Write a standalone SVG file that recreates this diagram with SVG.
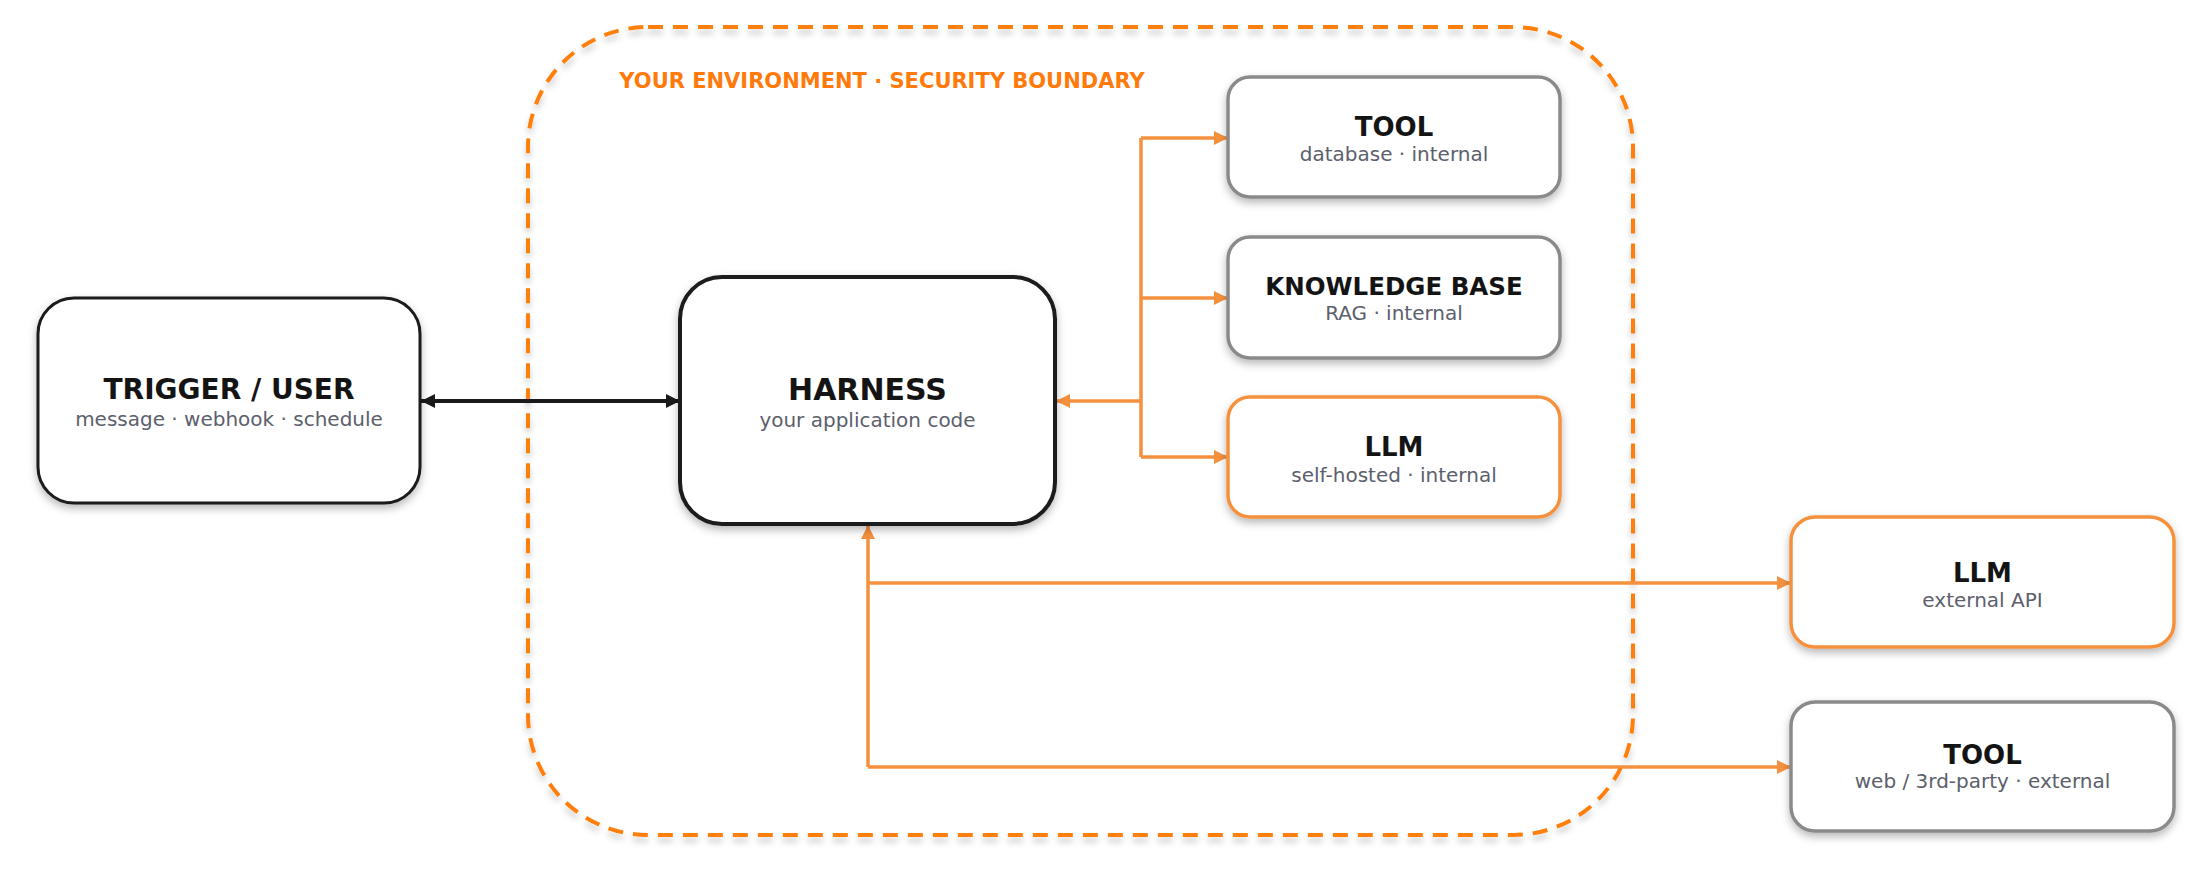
<svg xmlns="http://www.w3.org/2000/svg" width="2212" height="869" viewBox="0 0 2212 869">
<defs>
<filter id="sh" x="-20%" y="-20%" width="140%" height="150%">
<feDropShadow dx="0" dy="4" stdDeviation="4" flood-color="#000" flood-opacity="0.28"/>
</filter>
<filter id="shb" x="-5%" y="-5%" width="110%" height="110%">
<feDropShadow dx="0" dy="5" stdDeviation="3" flood-color="#000" flood-opacity="0.22"/>
</filter>
<marker id="ao" markerUnits="userSpaceOnUse" markerWidth="15" markerHeight="14" refX="14" refY="7" orient="auto-start-reverse">
<path d="M0,0 L14,7 L0,14 z" fill="#f5913e"/>
</marker>
<marker id="ak" markerUnits="userSpaceOnUse" markerWidth="15" markerHeight="14" refX="14" refY="7" orient="auto-start-reverse">
<path d="M0,0 L14,7 L0,14 z" fill="#1a1a1a"/>
</marker>
</defs>
<style>
text{font-family:"DejaVu Sans","Liberation Sans",sans-serif;text-anchor:middle}
.t{font-weight:bold;fill:#141414}
.s{font-size:20px;fill:#5c606c}
.box{fill:#fff}
.dark{stroke:#1a1a1a}
.gray{stroke:#8a8a8a;stroke-width:3.5}
.org{stroke:#f5913e;stroke-width:3.5}
.c{fill:none;stroke:#f5913e;stroke-width:3.5}
</style>
<rect id="boundary" x="528" y="27" width="1105" height="808" rx="120" ry="120" fill="none" stroke="#ff7f0e" stroke-width="4" stroke-dasharray="15 10" filter="url(#shb)"/>
<text x="882" y="88" style="font-size:21px;font-weight:bold;fill:#ff7a0a">YOUR ENVIRONMENT · SECURITY BOUNDARY</text>
<g id="connectors">
<path class="c" d="M1141,138 V457"/>
<path class="c" d="M1141,401 H1056" stroke-width="4" marker-end="url(#ao)"/>
<path class="c" d="M1141,138 H1228" marker-end="url(#ao)"/>
<path class="c" d="M1141,298 H1228" marker-end="url(#ao)"/>
<path class="c" d="M1141,457 H1228" marker-end="url(#ao)"/>
<path class="c" d="M868,767 V525" stroke-width="3" marker-end="url(#ao)"/>
<path class="c" d="M868,583 H1791" stroke-width="3" marker-end="url(#ao)"/>
<path class="c" d="M868,767 H1791" stroke-width="3" marker-end="url(#ao)"/>
<path d="M421,401 H680" fill="none" stroke="#1a1a1a" stroke-width="4" marker-start="url(#ak)" marker-end="url(#ak)"/>
</g>
<g id="trigger">
<rect class="box dark" x="38" y="298" width="382" height="205" rx="36" stroke-width="3" filter="url(#sh)"/>
<text class="t" x="229" y="399" style="font-size:28px">TRIGGER / USER</text>
<text class="s" x="229" y="426">message · webhook · schedule</text>
</g>
<g id="harness">
<rect class="box dark" x="680" y="277" width="375" height="247" rx="42" stroke-width="4" filter="url(#sh)"/>
<text class="t" x="867.5" y="400" style="font-size:30px">HARNESS</text>
<text class="s" x="867.5" y="427">your application code</text>
</g>
<g id="tool-internal">
<rect class="box gray" x="1228" y="77" width="332" height="120" rx="22" filter="url(#sh)"/>
<text class="t" x="1394" y="136" style="font-size:26px">TOOL</text>
<text class="s" x="1394" y="161">database · internal</text>
</g>
<g id="knowledge-base">
<rect class="box gray" x="1228" y="237" width="332" height="121" rx="22" filter="url(#sh)"/>
<text class="t" x="1394" y="295" style="font-size:24.5px">KNOWLEDGE BASE</text>
<text class="s" x="1394" y="320">RAG · internal</text>
</g>
<g id="llm-internal">
<rect class="box org" x="1228" y="397" width="332" height="120" rx="22" filter="url(#sh)"/>
<text class="t" x="1394" y="456" style="font-size:26px">LLM</text>
<text class="s" x="1394" y="482">self-hosted · internal</text>
</g>
<g id="llm-external">
<rect class="box org" x="1791" y="517" width="383" height="130" rx="24" filter="url(#sh)"/>
<text class="t" x="1982.5" y="582" style="font-size:26px">LLM</text>
<text class="s" x="1982.5" y="607">external API</text>
</g>
<g id="tool-external">
<rect class="box gray" x="1791" y="702" width="383" height="129" rx="24" filter="url(#sh)"/>
<text class="t" x="1982.5" y="764" style="font-size:26px">TOOL</text>
<text class="s" x="1982.5" y="788">web / 3rd-party · external</text>
</g>
</svg>
